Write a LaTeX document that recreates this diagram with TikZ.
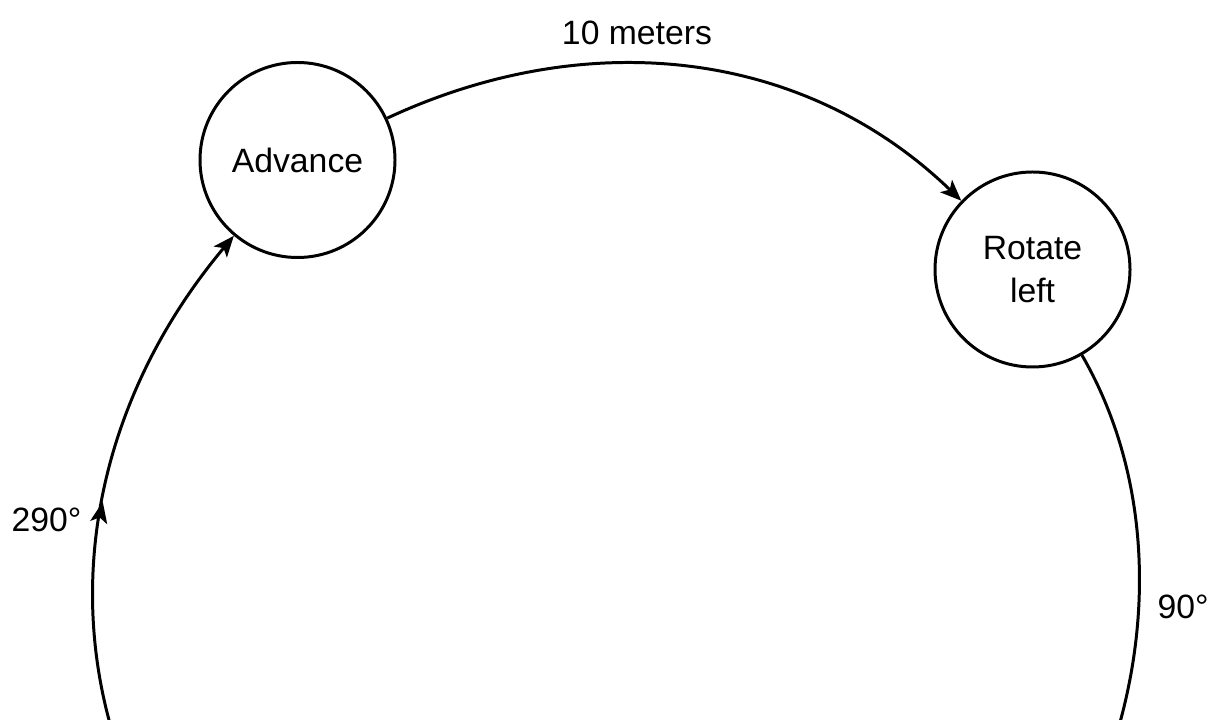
\documentclass[tikz,border=0pt]{standalone}
\usepackage{fontspec}
\setmainfont{Liberation Sans}
\usetikzlibrary{positioning,arrows.meta,decorations.markings}

\begin{document}
\begin{tikzpicture}[line width=0.85pt,
    every node/.style={font=\fontsize{9.6}{12.2}\selectfont},
    state/.style={draw,circle,minimum size=1.95cm,inner sep=0pt,align=center},
    tip/.style={-{Stealth[length=2.1mm,width=1.7mm,inset=0.5mm]}}]
  \useasboundingbox (0,0) rectangle (12.1,-7.2);
  \clip (0,0) rectangle (12.1,-7.2);

  % ---------------- States ----------------
  \node[state] (adv) at (2.975,-1.60) {Advance};
  \node[state] (rot) at (10.325,-2.695) {Rotate\\left};

  % off-page points of the big loop
  \coordinate (botR) at (9.355,-10.026);
  \coordinate (botL) at (1.98,-9.004);

  % ---------------- Transitions ----------------
  \draw[tip] (adv) to[out=25,in=136,looseness=0.97] (rot);
  \draw (rot) to[out=-60,in=37,looseness=0.92] (botR);
  \draw[tip,postaction={decorate},
        decoration={markings,mark=at position 0.585 with
          {\arrow{Stealth[length=2.1mm,width=1.7mm,inset=0.5mm]}}}]
    (botL) to[out=127,in=230,looseness=1.0] (adv);

  % ---------------- Labels ----------------
  \node (dist) at (6.37,-0.33) {10 meters};
  \node[anchor=east,inner sep=0pt] (turnL) at (0.83,-5.20) {290°};
  \node[anchor=west,inner sep=0pt] (turnR) at (11.56,-6.07) {90°};
\end{tikzpicture}
\end{document}
